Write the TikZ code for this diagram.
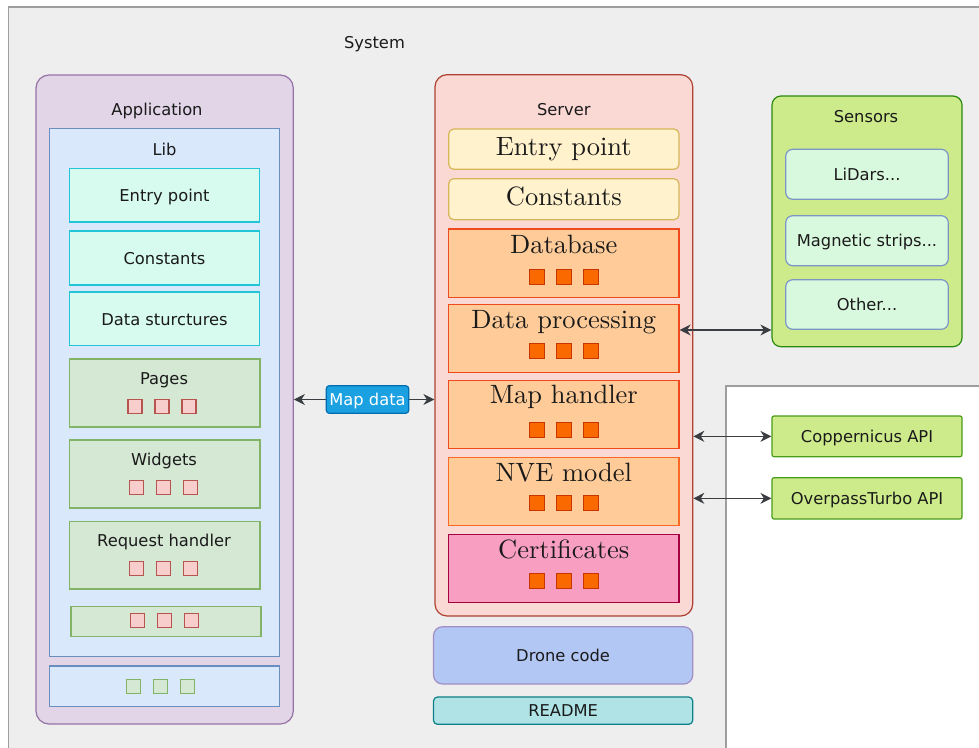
\documentclass[tikz,border=0pt]{standalone}
\usepackage{fontspec}
\newfontfamily\dejavu{DejaVu Sans}
\newfontfamily\bookserif{lmroman10-regular.otf}
\usetikzlibrary{arrows.meta,fit}

\definecolor{txt}{HTML}{1A1A1A}
\definecolor{sysfill}{HTML}{EEEEEE}
\definecolor{sysline}{HTML}{9E9E9E}
\definecolor{appfill}{HTML}{E1D5E7}
\definecolor{appline}{HTML}{9673A6}
\definecolor{libfill}{HTML}{DAE8FC}
\definecolor{libline}{HTML}{6C8EBF}
\definecolor{mintfill}{HTML}{D7FBEF}
\definecolor{mintline}{HTML}{22C4D8}
\definecolor{grnfill}{HTML}{D5E8D4}
\definecolor{grnline}{HTML}{82B366}
\definecolor{rosefill}{HTML}{F8CECC}
\definecolor{roseline}{HTML}{B85450}
\definecolor{srvfill}{HTML}{FAD9D5}
\definecolor{srvline}{HTML}{AE4132}
\definecolor{yelfill}{HTML}{FFF2CC}
\definecolor{yelline}{HTML}{D6B656}
\definecolor{orgfill}{HTML}{FFCC99}
\definecolor{orgline}{HTML}{F04A1C}
\definecolor{orgline2}{HTML}{FA6A22}
\definecolor{sqfill}{HTML}{FA6800}
\definecolor{sqline}{HTML}{C73500}
\definecolor{certfill}{HTML}{F89FC1}
\definecolor{certline}{HTML}{A50040}
\definecolor{limefill}{HTML}{CDEB8B}
\definecolor{senline}{HTML}{2A8A10}
\definecolor{apiline}{HTML}{4A9C1A}
\definecolor{sitemfill}{HTML}{D9F9DE}
\definecolor{sitemline}{HTML}{7C97C7}
\definecolor{dronefill}{HTML}{B3C7F4}
\definecolor{droneline}{HTML}{A08EC4}
\definecolor{readfill}{HTML}{B0E3E6}
\definecolor{readline}{HTML}{0E8088}
\definecolor{mapfill}{HTML}{1BA1E2}
\definecolor{mapline}{HTML}{006EAF}
\definecolor{wire}{HTML}{3A3D42}

\tikzset{
  sans/.style={font=\dejavu\fontsize{16.3}{19}\selectfont, text=txt, anchor=base, inner sep=0pt},
  serif/.style={font=\bookserif\fontsize{26.5}{30}\selectfont, text=txt, anchor=base, inner sep=0pt},
  area/.style={inner sep=0pt, line width=1.2pt},
  appbox/.style={area, fill=appfill, draw=appline, rounded corners=13},
  libbox/.style={area, fill=libfill, draw=libline},
  mintbox/.style={area, fill=mintfill, draw=mintline},
  grnbox/.style={area, fill=grnfill, draw=grnline},
  srvbox/.style={area, fill=srvfill, draw=srvline, rounded corners=12},
  yelbox/.style={area, fill=yelfill, draw=yelline, rounded corners=5},
  orgbox/.style={area, fill=orgfill, draw=orgline},
  certbox/.style={area, fill=certfill, draw=certline},
  senbox/.style={area, fill=limefill, draw=senline, rounded corners=9},
  sitem/.style={area, fill=sitemfill, draw=sitemline, rounded corners=7},
  apibox/.style={area, fill=limefill, draw=apiline, rounded corners=2},
  dronebox/.style={area, fill=dronefill, draw=droneline, rounded corners=9},
  readbox/.style={area, fill=readfill, draw=readline, rounded corners=4},
  mapbox/.style={area, fill=mapfill, draw=mapline, rounded corners=3},
  rosesq/.style={fill=rosefill, draw=roseline, line width=1.1pt, minimum size=14, inner sep=0pt},
  grnsq/.style={fill=grnfill, draw=grnline, line width=1.1pt, minimum size=14, inner sep=0pt},
  orgsq/.style={fill=sqfill, draw=sqline, line width=0.8pt, minimum size=15, inner sep=0pt},
  conn/.style={draw=wire, line width=1.2pt,
    {Stealth[length=11pt,width=11pt,inset=3.5pt]}-{Stealth[length=11pt,width=11pt,inset=3.5pt]}},
}

% three small squares in a row: name prefix, centre x, centre y, style
\newcommand\squaretrio[4]{%
  \foreach \k/\d in {1/-27,2/0,3/27}
    \node[#4] (#1\k) at (#2+\d,#3) {};%
}

\begin{document}
\begin{tikzpicture}[x=1pt,y=-1pt]
\useasboundingbox (0,0) rectangle (979,747);
\clip (0,0) rectangle (979,747);

% system frame and the blank area in its lower right
\node[area, fill=sysfill, draw=sysline, fit={(8.5,7) (990,760)}] (system) {};
\node[area, fill=white, draw=sysline, fit={(726,386) (990,760)}] (blank) {};
\node[sans] (systemlbl) at (374.5,48.3) {System};

% application column
\node[appbox, fit={(36,75) (293.3,724)}] (app) {};
\node[sans] (applbl) at (157,115.7) {Application};
\node[libbox, fit={(49.3,128.7) (279.7,656.7)}] (lib) {};
\node[sans] (liblbl) at (164.5,155.7) {Lib};

\node[mintbox, fit={(69.5,168.3) (259.5,222)}] (libentry) {};
\node[sans] (libentrylbl) at (164.5,201) {Entry point};
\node[mintbox, fit={(69.5,231) (259.5,285)}] (libconst) {};
\node[sans] (libconstlbl) at (164.5,264) {Constants};
\node[mintbox, fit={(69.5,292) (259.5,345.5)}] (libdata) {};
\node[sans] (libdatalbl) at (164.5,325) {Data sturctures};

\node[grnbox, fit={(69.5,359) (260,427)}] (pages) {};
\node[sans] (pageslbl) at (164,384.3) {Pages};
\squaretrio{pagessq}{162}{406.3}{rosesq}

\node[grnbox, fit={(69.5,440) (260,508)}] (widgets) {};
\node[sans] (widgetslbl) at (164,465.7) {Widgets};
\squaretrio{widgetssq}{163.5}{487.7}{rosesq}

\node[grnbox, fit={(69.5,521.3) (260,589)}] (reqh) {};
\node[sans] (reqhlbl) at (164,546.7) {Request handler};
\squaretrio{reqhsq}{163.5}{568.8}{rosesq}

\node[grnbox, fit={(71,606.7) (261,636.3)}] (extra) {};
\squaretrio{extrasq}{164.5}{620.3}{rosesq}

\node[libbox, fit={(49.3,666) (279.7,706.7)}] (appfoot) {};
\squaretrio{footsq}{160.5}{686.3}{grnsq}

% server column
\node[srvbox, fit={(435,74.7) (692.7,616)}] (server) {};
\node[sans] (serverlbl) at (563.8,115.7) {Server};

\node[yelbox, fit={(448.7,129) (679,169.3)}] (srventry) {};
\node[serif] (srventrylbl) at (563.8,155.7) {Entry point};
\node[yelbox, fit={(448.7,178.7) (679,219.7)}] (srvconst) {};
\node[serif] (srvconstlbl) at (563.8,205.7) {Constants};

\node[orgbox, fit={(448.7,229) (679,297.3)}] (database) {};
\node[serif] (databaselbl) at (563.8,253.3) {Database};
\squaretrio{dbsq}{564}{276.5}{orgsq}

\node[orgbox, fit={(448.7,304.7) (679,372.7)}] (dataproc) {};
\node[serif] (dataproclbl) at (563.8,328.3) {Data processing};
\squaretrio{dpsq}{564}{351}{orgsq}

\node[orgbox, fit={(448.7,380.7) (679,448.3)}] (maph) {};
\node[serif] (maphlbl) at (563.8,403.3) {Map handler};
\squaretrio{mhsq}{564}{429.7}{orgsq}

\node[orgbox, draw=orgline2, fit={(448.7,457.7) (679,525.3)}] (nve) {};
\node[serif] (nvelbl) at (563.8,481) {NVE model};
\squaretrio{nvesq}{564}{502.5}{orgsq}

\node[certbox, fit={(448.7,534.7) (679,602.3)}] (cert) {};
\node[serif] (certlbl) at (563.8,558.3) {Certificates};
\squaretrio{certsq}{564}{581}{orgsq}

\node[dronebox, fit={(433.5,626.7) (692.7,684)}] (drone) {};
\node[sans] (dronelbl) at (563.1,661.3) {Drone code};
\node[readbox, fit={(433.5,697) (692.7,724.3)}] (readme) {};
\node[sans] (readmelbl) at (563.1,716.5) {README};

% sensors
\node[senbox, fit={(772,96) (962,346.7)}] (sensors) {};
\node[sans] (sensorslbl) at (866,122.7) {Sensors};
\node[sitem, fit={(785.7,149.3) (948.3,199.3)}] (lidars) {};
\node[sans] (lidarslbl) at (867,180.3) {LiDars...};
\node[sitem, fit={(785.7,215.7) (948.3,265.7)}] (magnetic) {};
\node[sans] (magneticlbl) at (867,246.7) {Magnetic strips...};
\node[sitem, fit={(785.7,279.7) (948.3,329.3)}] (other) {};
\node[sans] (otherlbl) at (867,310.5) {Other...};

% external APIs
\node[apibox, fit={(772,416) (962,456.7)}] (copp) {};
\node[sans] (copplbl) at (867,442.3) {Coppernicus API};
\node[apibox, fit={(772,477.7) (962,519)}] (overpass) {};
\node[sans] (overpasslbl) at (867,504.3) {OverpassTurbo API};

% connectors; the Map data tag sits on top of its line
\coordinate (mapmid) at (367.5,399.5);
\draw[conn] (app.east |- mapmid) -- (server.west |- mapmid);
\node[mapbox, fit={(326.3,385.7) (408.7,413.3)}] (mapdata) {};
\node[sans, text=white] (mapdatalbl) at (367.5,405.5) {Map data};

\draw[conn] ([yshift=8.7]dataproc.east) -- ([yshift=8.7]dataproc.east -| sensors.west);
\draw[conn] (server.east |- copp.west) -- (copp.west);
\draw[conn] (server.east |- overpass.west) -- (overpass.west);
\end{tikzpicture}
\end{document}
